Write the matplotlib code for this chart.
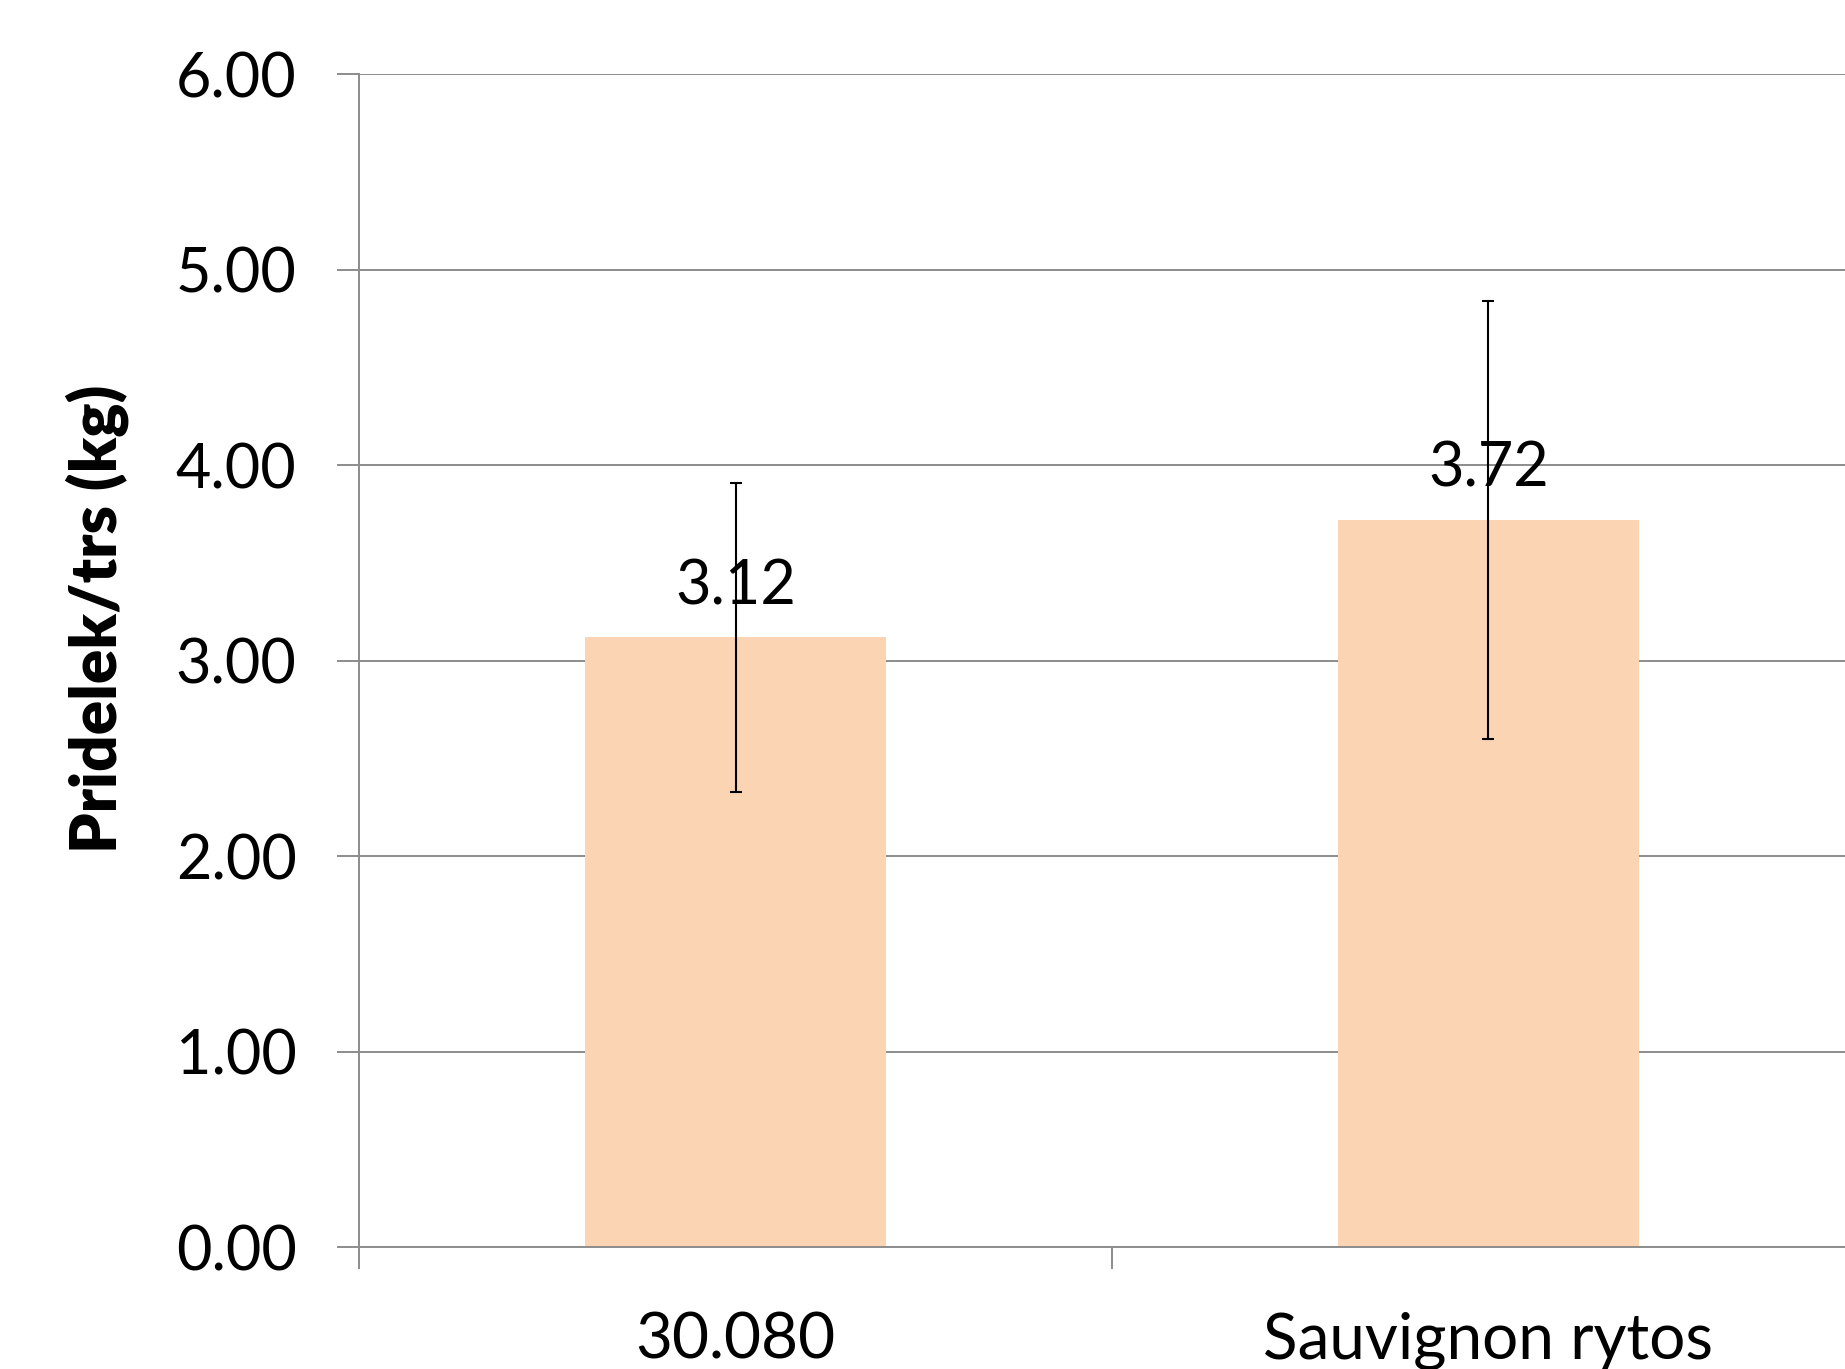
import matplotlib.pyplot as plt
import numpy as np

# data
odrudy = ["30.080", "Sauvignon rytos"]
pridelek = [3.12, 3.72]
chyby = [0.79, 1.12]
y_ticks = [0, 1, 2, 3, 4, 5, 6]

plt.rcParams['font.family'] = ['Lato', 'DejaVu Sans']

fig = plt.figure(figsize=(18.45, 13.69), dpi=100)
ax = fig.add_axes([0.1946, 0.0888, 0.8162, 0.8568])

x = np.arange(len(odrudy))
ax.bar(x, pridelek, width=0.40, color='#FBD4B4', zorder=2)
ax.errorbar(x, pridelek, yerr=chyby, fmt='none', ecolor='black',
            elinewidth=1.5, capsize=4.5, capthick=1.5, zorder=4)

for xi, v in zip(x, pridelek):
    ax.text(xi, v + 0.26, f"{v:.2f}", ha='center', va='center',
            fontsize=44, zorder=3)

ax.set_xlim(-0.5, 1.5)
ax.set_ylim(0, 6)
ax.set_yticks(y_ticks)
ax.set_yticklabels([f"{t:.2f}" for t in y_ticks])
ax.yaxis.grid(True, color='#8c8c8c', linewidth=1.4, zorder=1)
ax.set_axisbelow(True)

# category ticks at boundaries, labels in the middle
ax.set_xticks([-0.5, 0.5, 1.5])
ax.set_xticklabels([])
ax.set_xticks(x, minor=True)
ax.set_xticklabels(odrudy, minor=True)
ax.tick_params(axis='x', which='minor', length=0, pad=46, labelsize=46)
ax.tick_params(axis='x', which='major', length=16, width=1.4, color='#8c8c8c')
ax.tick_params(axis='y', length=16, width=1.4, color='#8c8c8c', pad=29, labelsize=44)

for s in ['top', 'right']:
    ax.spines[s].set_visible(False)
for s in ['left', 'bottom']:
    ax.spines[s].set_color('#8c8c8c')
    ax.spines[s].set_linewidth(1.4)

fig.text(0.0525, 0.548, "Pridelek/trs (kg)", rotation=90, ha='center', va='center',
         fontsize=46, fontweight='heavy')

fig.savefig("out.png", dpi=100)
